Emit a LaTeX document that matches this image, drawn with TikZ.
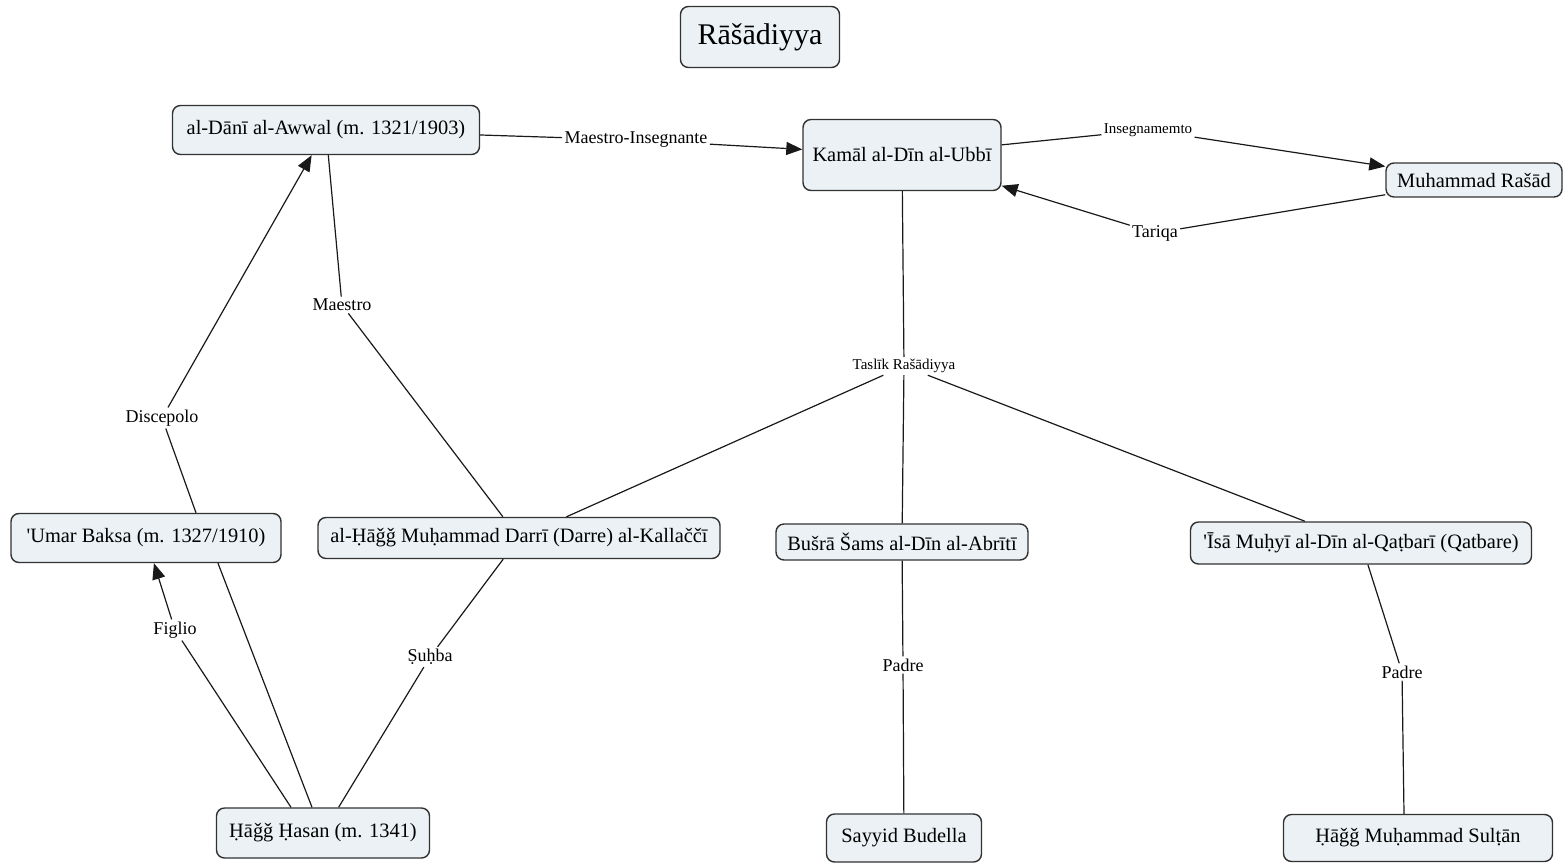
\documentclass[tikz,border=0pt]{standalone}
\usepackage{fontspec}
\setmainfont{Liberation Serif}
\newfontfamily\plainserif{Liberation Serif}
\usetikzlibrary{arrows.meta}
\definecolor{boxfill}{RGB}{235,241,244}
\definecolor{boxline}{RGB}{50,50,50}
\definecolor{edgecol}{RGB}{25,25,25}
\newcommand{\sq}{{\plainserif '}}
\begin{document}
\begin{tikzpicture}[x=0.5pt,y=-0.5pt,
  box/.style={draw=boxline,fill=boxfill,rounded corners=4pt,line width=0.7pt,inner sep=0pt,font=\fontsize{10.2}{12}\selectfont},
  lbl/.style={fill=white,inner sep=1pt,font=\fontsize{9}{10}\selectfont},
  slbl/.style={fill=white,inner sep=1pt,font=\fontsize{7.5}{9}\selectfont},
  edge/.style={draw=edgecol,line width=0.6pt},
  arr/.style={edge,-{Triangle[length=8pt,width=6.5pt]}}]
\useasboundingbox (0,0) rectangle (1564,863);
% nodes
\node[box,minimum width=79.5pt,minimum height=30.5pt,font=\fontsize{15}{18}\selectfont] (title) at (760,37) {Rāšādiyya};
\node[box,minimum width=153.5pt,minimum height=24.5pt] (dani) at (326,130) {al-Dānī al-Awwal (m. 1321/1903)};
\node[box,minimum width=99pt,minimum height=35.5pt] (kamal) at (902,155) {Kamāl al-Dīn al-Ubbī};
\node[box,minimum width=88pt,minimum height=17pt] (rasad) at (1474,180) {Muhammad Rašād};
\node[box,minimum width=135pt,minimum height=24.5pt] (umar) at (146,538) {\sq Umar Baksa (m. 1327/1910)};
\node[box,minimum width=201pt,minimum height=20.5pt] (darri) at (519,538) {al-Ḥāǧǧ Muḥammad Darrī (Darre) al-Kallaččī};
\node[box,minimum width=126pt,minimum height=18pt] (busra) at (902,542) {Bušrā Šams al-Dīn al-Abrītī};
\node[box,minimum width=170.5pt,minimum height=21pt] (isa) at (1361,543) {\sq Īsā Muḥyī al-Dīn al-Qaṭbarī (Qatbare)};
\node[box,minimum width=106.5pt,minimum height=25pt] (hasan) at (323,833) {Ḥāǧǧ Ḥasan (m. 1341)};
\node[box,minimum width=77.5pt,minimum height=24pt] (sayyid) at (904,838) {Sayyid Budella};
\node[box,minimum width=134.5pt,minimum height=23.5pt] (sultan) at (1418,838) {Ḥāǧǧ Muḥammad Sulṭān};
% labels
\node[lbl] (l1) at (636,140) {Maestro-Insegnante};
\node[slbl] (l2) at (1148,130) {Insegnamemto};
\node[lbl] (l3) at (1155,233) {Tariqa};
\node[lbl] (l4) at (342,305) {Maestro};
\node[lbl] (l5) at (162,418) {Discepolo};
\node[lbl] (l6) at (175,630) {Figlio};
\node[lbl] (l7) at (430,657) {Ṣuḥba};
\node[slbl] (l8) at (904,366) {Taslīk Rašādiyya};
\node[lbl] (l9) at (903,665) {Padre};
\node[lbl] (l10) at (1402,672) {Padre};
% connectors
\draw[edge] (dani) -- (l1);
\draw[arr] (l1) -- (kamal);
\draw[edge] (kamal) -- (l2);
\draw[arr] (l2) -- (rasad);
\draw[edge] (rasad) -- (l3);
\draw[arr] (l3) -- (kamal);
\draw[edge] (dani) -- (l4);
\draw[edge] (l4) -- (darri);
\draw[edge] ([xshift=25pt]umar.north) -- (l5);
\draw[arr] (l5) -- (dani);
\draw[edge] ([xshift=-16pt]hasan.north) -- (l6);
\draw[arr] (l6) -- (umar);
\draw[edge] ([xshift=36pt]umar.south) -- ([xshift=-5.5pt]hasan.north);
\draw[edge] (darri) -- (l7);
\draw[edge] (l7) -- (hasan);
\draw[edge] (kamal) -- (l8);
\draw[edge] (l8) -- (darri);
\draw[edge] (l8) -- (busra);
\draw[edge] (l8) -- (isa);
\draw[edge] (busra) -- (l9);
\draw[edge] (l9) -- (sayyid);
\draw[edge] (isa) -- (l10);
\draw[edge] (l10) -- ([xshift=-7pt]sultan.north);
\end{tikzpicture}
\end{document}
